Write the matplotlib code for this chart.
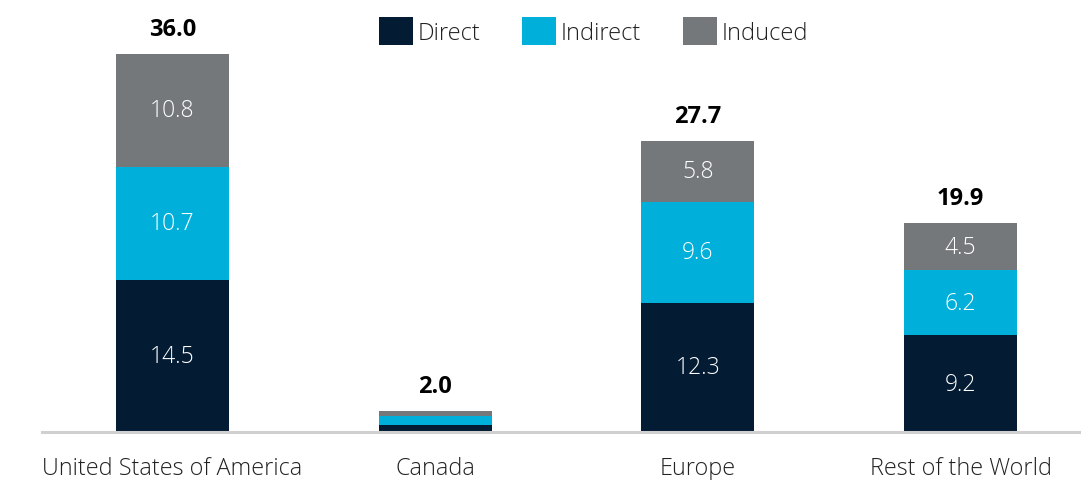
import matplotlib
matplotlib.use("Agg")
import matplotlib.pyplot as plt
from matplotlib.patches import Patch

plt.rcParams['font.family'] = ['Open Sans', 'DejaVu Sans']

categories = ["United States of America", "Canada", "Europe", "Rest of the World"]
direct = [14.5, 0.7, 12.3, 9.2]
indirect = [10.7, 0.8, 9.6, 6.2]
induced = [10.8, 0.5, 5.8, 4.5]
totals = [36.0, 2.0, 27.7, 19.9]
series_names = ["Direct", "Indirect", "Induced"]
colors = ["#031B33", "#00B0DA", "#75787B"]

fig = plt.figure(figsize=(10.81, 4.81), dpi=100)
ax = fig.add_axes([42 / 1081, 1 - 433 / 481, 1 - 42 / 1081, 433 / 481])

x = list(range(len(categories)))
w = 0.43
bottom = [0.0] * len(categories)
for vals, col in zip([direct, indirect, induced], colors):
    ax.bar(x, vals, w, bottom=bottom, color=col, edgecolor='none')
    for i, v in enumerate(vals):
        if v >= 2:
            ax.text(x[i], bottom[i] + v / 2, f"{v:.1f}", ha='center', va='center',
                    color='white', fontsize=16.5, fontweight='light')
    bottom = [b + v for b, v in zip(bottom, vals)]

for i, t in enumerate(totals):
    ax.text(x[i], bottom[i] + 1.2, f"{t:.1f}", ha='center', va='bottom',
            fontsize=17, fontweight='bold', color='black')

ax.set_xlim(-0.496, 3.458)
ax.set_ylim(0, 41.2)
ax.set_yticks([])
ax.set_xticks(x)
ax.set_xticklabels(categories, fontsize=16.8, color='#222222', fontweight='light')
ax.tick_params(axis='x', length=0, pad=17)
for s in ['top', 'right', 'left']:
    ax.spines[s].set_visible(False)
ax.spines['bottom'].set_color('#d0d0d0')
ax.spines['bottom'].set_linewidth(2.2)

handles = [Patch(facecolor=c, edgecolor='none') for c in colors]
fig.legend(handles, series_names, loc='center', bbox_to_anchor=(0.549, 0.933),
           ncol=3, frameon=False, prop={'size': 17, 'weight': 'light'},
           handlelength=1.45, handleheight=1.45,
           handletextpad=0.2, columnspacing=1.75, labelcolor='#222222')

fig.savefig("out.png", dpi=100)
